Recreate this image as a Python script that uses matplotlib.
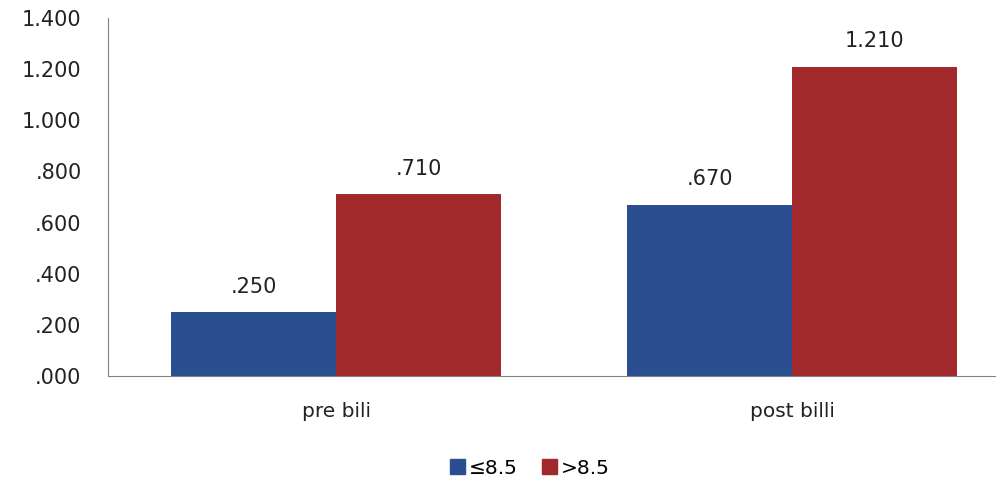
import matplotlib
matplotlib.use("Agg")
import matplotlib.pyplot as plt
import numpy as np
from matplotlib.patches import Patch

categories = ["pre bili", "post billi"]
series_names = ["\u22648.5", ">8.5"]
low_values = [0.250, 0.670]
high_values = [0.710, 1.210]
colors = ["#2a4e90", "#a1282b"]

fig = plt.figure(figsize=(9.96, 4.86), dpi=100)
ax = fig.add_axes([0.1084, 0.2263, 0.8916, 0.7367])

x = np.arange(len(categories))
w = 0.362
bars_low = ax.bar(x - w / 2, low_values, w, color=colors[0])
bars_high = ax.bar(x + w / 2, high_values, w, color=colors[1])


def fmt(v):
    s = f"{v:.3f}"
    return s[1:] if s.startswith("0") else s


for bars in (bars_low, bars_high):
    for b in bars:
        v = b.get_height()
        ax.annotate(fmt(v), (b.get_x() + b.get_width() / 2, v),
                    xytext=(0, 11), textcoords="offset points",
                    ha="center", va="bottom", fontsize=15, color="#222222")

ticks = np.arange(0, 1.401, 0.2)
ax.set_xlim(-0.5, 1.447)
ax.set_ylim(0, 1.4)
ax.set_yticks(ticks)
ax.set_yticklabels([fmt(t) for t in ticks])
ax.set_xticks(x)
ax.set_xticklabels(categories)
ax.tick_params(axis="y", length=0, pad=19, labelsize=15, labelcolor="#222222")
ax.tick_params(axis="x", length=0, pad=19, labelsize=14.5, labelcolor="#222222")

for s in ("top", "right"):
    ax.spines[s].set_visible(False)
ax.spines["left"].set_color("#808080")
ax.spines["bottom"].set_color("#808080")

handles = [Patch(color=c, label=n) for c, n in zip(colors, series_names)]
fig.legend(handles=handles, loc="center", bbox_to_anchor=(0.532, 0.037), ncol=2,
           frameon=False, fontsize=14.5, handlelength=0.75, handleheight=0.75,
           handletextpad=0.2, columnspacing=1.2)

fig.savefig("out.png", dpi=100)
